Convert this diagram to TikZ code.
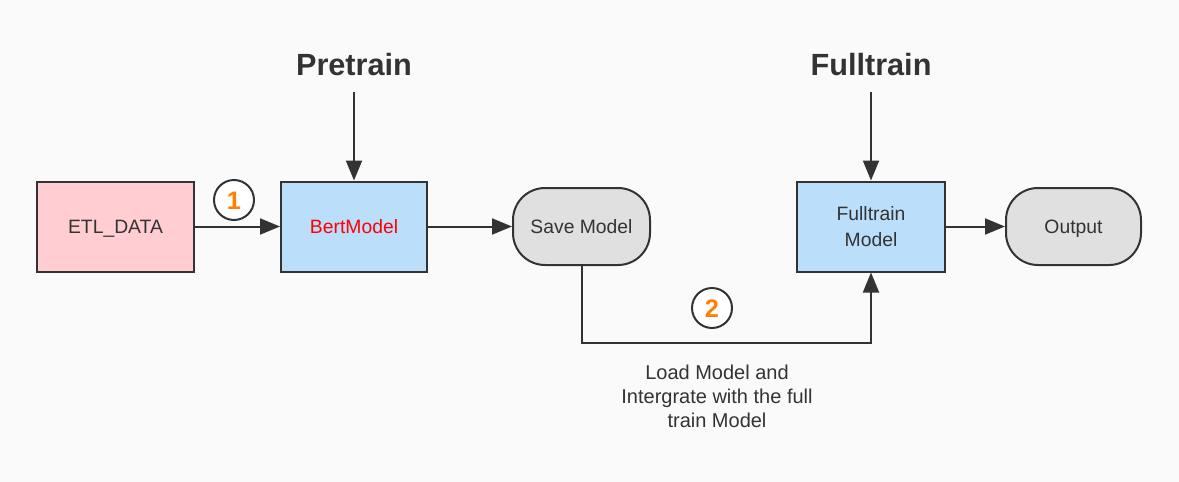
\documentclass[tikz,border=0pt]{standalone}
\usepackage{fontspec}
\setmainfont{Liberation Sans}
\usetikzlibrary{arrows.meta}
\definecolor{bg}{HTML}{FAFAFA}
\definecolor{ink}{HTML}{333333}
\definecolor{pinkfill}{HTML}{FFCDD2}
\definecolor{bluefill}{HTML}{BBDEFB}
\definecolor{grayfill}{HTML}{E0E0E0}
\definecolor{numorange}{HTML}{FF8000}
\definecolor{redtext}{HTML}{FF0000}
\tikzset{
  box/.style={draw=ink, line width=1.5pt, minimum height=67.5pt, inner sep=0pt,
    font=\fontsize{14.5}{18}\selectfont, text=ink, align=center},
  oneline/.style={text height=10.4pt, text depth=0pt},
  term/.style={draw=ink, line width=1.5pt, fill=grayfill, rounded corners=24pt,
    minimum height=57.75pt, inner sep=0pt, font=\fontsize{14.5}{18}\selectfont, text=ink,
    text height=10.4pt, text depth=0pt},
  arr/.style={draw=ink, line width=1.5pt, -{Triangle[length=15pt,width=12pt]}},
  title/.style={font=\bfseries\fontsize{23}{27}\selectfont, text=ink},
  num/.style={circle, draw=ink, line width=1.5pt, fill=white, minimum size=30pt, inner sep=0pt,
    font=\bfseries\fontsize{19}{20}\selectfont, text=numorange, text height=13.6pt, text depth=0pt},
  note/.style={font=\fontsize{15}{18}\selectfont, text=ink, align=center}
}
\begin{document}
\begin{tikzpicture}[x=0.75pt, y=-0.75pt]
\fill[bg] (0,0) rectangle (1179,482);
\useasboundingbox (0,0) rectangle (1179,482);

\node[box, oneline, fill=pinkfill, minimum width=117.75pt] (etl) at (115.5,226.5) {ETL\_DATA};
\node[box, oneline, fill=bluefill, minimum width=109.5pt, text=redtext] (bert) at (354,226.5) {BertModel};
\node[term, minimum width=102.75pt] (save) at (581.5,226.5) {Save Model};
\node[box, fill=bluefill, minimum width=111pt] (full) at (871,226.5) {Fulltrain\\[2pt]Model};
\node[term, minimum width=101.25pt] (out) at (1073.5,226.5) {Output};

\node[title] (pre) at (354,65) {Pretrain};
\node[title] (ftitle) at (871,65) {Fulltrain};
\coordinate (preStart) at (354,92);
\coordinate (fullStart) at (871,92);
\coordinate (loopY) at (582,343);

\node[num] (n1) at (234,200) {1};
\node[num] (n2) at (712,308) {2};

\node[note] (lbl) at (717,396) {Load Model and\\Intergrate with the full\\train Model};

\draw[arr] (etl.east) -- (bert.west);
\draw[arr] (bert.east) -- (save.west);
\draw[arr] (full.east) -- (out.west);
\draw[arr] (preStart) -- (bert.north);
\draw[arr] (fullStart) -- (full.north);
\draw[arr] (save.south) -- (save.south |- loopY) -| (full.south);
\end{tikzpicture}
\end{document}
